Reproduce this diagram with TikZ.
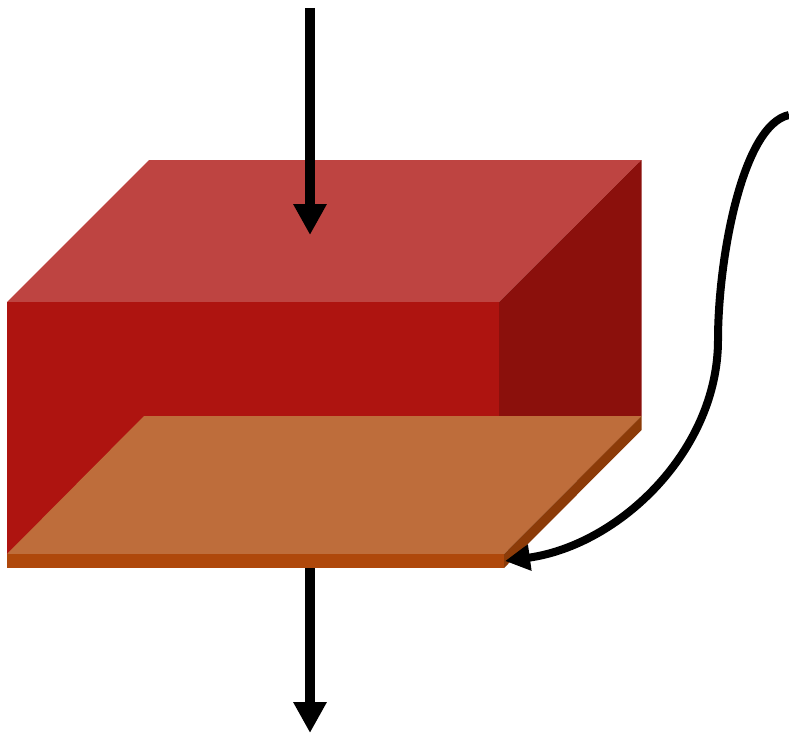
\documentclass[tikz,border=0pt]{standalone}
\usepackage{xcolor}
\usepackage{tikz}
\usetikzlibrary{arrows.meta}
\definecolor{topred}{HTML}{BE4441}
\definecolor{frontred}{HTML}{AE1410}
\definecolor{sidered}{HTML}{8B100C}
\definecolor{platetop}{HTML}{BE6D3B}
\definecolor{platefront}{HTML}{AF480B}
\definecolor{plateside}{HTML}{8C3B08}

\begin{document}
\begin{tikzpicture}[
  x=1pt,y=-1pt,
  flow/.style={line width=10pt,black,-{Triangle[length=31pt,width=31.5pt]}},
  lead/.style={line width=8pt,black,-{Triangle[length=25pt,width=25pt]}}
]
\useasboundingbox (0,0) rectangle (789,733);
% block
\fill[topred] (7,302)--(149,160)--(641.5,160)--(499,302)--cycle;
\fill[frontred] (7,302) rectangle (499,554);
\fill[sidered] (499,302)--(641.5,160)--(641.5,416)--(499,416)--cycle;
% plate
\fill[platetop] (7,554)--(144,416)--(641.5,416)--(504,554)--cycle;
\fill[platefront] (7,554) rectangle (504,568);
\fill[plateside] (504,554)--(641.5,416)--(641.5,430)--(504,568)--cycle;

\coordinate (in) at (310,8);
\coordinate (intip) at (310,235);
\coordinate (out) at (310,568);
\coordinate (outtip) at (310,733);
\coordinate (wire) at (789,115);
\coordinate (bend) at (718,340);
\coordinate (corner) at (505,561);
\draw[flow] (in)--(intip);
\draw[flow] (out)--(outtip);
\draw[lead] (wire) .. controls (742,125) and (718,260) .. (bend)
  .. controls (718,450) and (620,545) .. (corner);
\end{tikzpicture}
\end{document}
